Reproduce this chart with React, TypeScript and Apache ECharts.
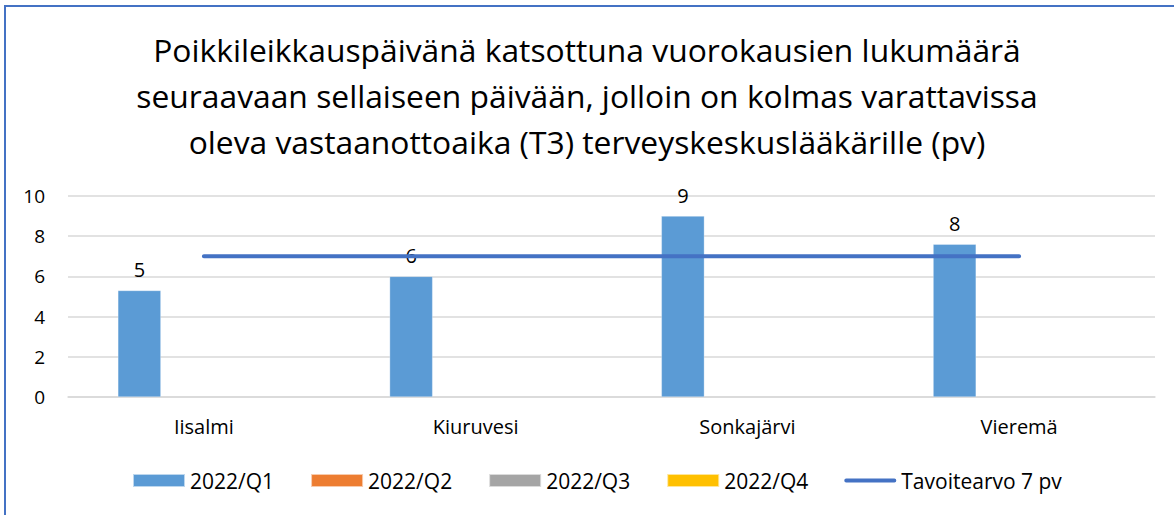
import React, { useEffect, useRef } from "react";
import * as echarts from "echarts";

const titleLines = [
  "Poikkileikkauspäivänä katsottuna vuorokausien lukumäärä",
  "seuraavaan sellaiseen päivään, jolloin on kolmas varattavissa",
  "oleva vastaanottoaika (T3) terveyskeskuslääkärille (pv)",
];
const categories = ["Iisalmi", "Kiuruvesi", "Sonkajärvi", "Vieremä"];
const seriesNames = ["2022/Q1", "2022/Q2", "2022/Q3", "2022/Q4"];
const q1Values = [5.3, 6.0, 9.0, 7.6];
const q2Values = ["-", "-", "-", "-"];
const q3Values = ["-", "-", "-", "-"];
const q4Values = ["-", "-", "-", "-"];
const targetName = "Tavoitearvo 7 pv";
const targetValues = [7, 7, 7, 7];
const yTicks = { min: 0, max: 10, interval: 2 };

const barColors = ["#5B9BD5", "#ED7D31", "#A5A5A5", "#FFC000"];
const FONT = "'Open Sans', 'Noto Sans', sans-serif";

export default function App() {
  const ref = useRef<HTMLDivElement>(null);
  useEffect(() => {
    if (!ref.current) return;
    const chart = echarts.init(ref.current, null, { renderer: "svg" });
    const barData = [q1Values, q2Values, q3Values, q4Values];
    const option: any = {
      animation: false,
      backgroundColor: "#ffffff",
      textStyle: { fontFamily: FONT },
      title: {
        text: titleLines.join("\n"),
        left: "center",
        top: 21,
        textStyle: {
          fontFamily: FONT,
          fontSize: 31.8,
          fontWeight: "normal",
          color: "#000000",
          lineHeight: 46,
        },
      },
      graphic: [
        {
          type: "rect",
          shape: { x: 5, y: 6, width: 1400, height: 800 },
          style: { fill: "none", stroke: "#4472C4", lineWidth: 2 },
          silent: true,
        },
      ],
      legend: {
        left: 127,
        top: 465,
        itemWidth: 52,
        itemHeight: 13,
        itemGap: 36,
        textStyle: { fontFamily: FONT, fontSize: 21, color: "#000000" },
        data: [
          ...seriesNames.map((n) => ({ name: n, icon: "rect" })),
          {
            name: targetName,
            icon: "path://M2,0L53,0A2,2,0,0,1,53,4L2,4A2,2,0,0,1,2,0Z",
          },
        ],
      },
      grid: { left: 68, right: 19, top: 196, bottom: 118, containLabel: false },
      xAxis: {
        type: "category",
        data: categories,
        axisLine: { lineStyle: { color: "#d9d9d9", width: 1.5 } },
        axisTick: { show: false },
        axisLabel: { fontFamily: FONT, fontSize: 20, color: "#000000", margin: 19 },
      },
      yAxis: {
        type: "value",
        min: yTicks.min,
        max: yTicks.max,
        interval: yTicks.interval,
        axisLine: { show: false },
        axisTick: { show: false },
        splitLine: { lineStyle: { color: "#d9d9d9", width: 1.5 } },
        axisLabel: { fontFamily: FONT, fontSize: 19, color: "#000000", margin: 23 },
      },
      series: [
        ...seriesNames.map((n, i) => ({
          name: n,
          type: "bar",
          data: barData[i],
          barGap: "0%",
          barCategoryGap: "36.7%",
          itemStyle: { color: barColors[i], borderColor: "rgba(255,255,255,0.6)", borderWidth: 0.5 },
          label:
            i === 0
              ? {
                  show: true,
                  position: "top",
                  distance: 11,
                  fontFamily: FONT,
                  fontSize: 20,
                  color: "#000000",
                  formatter: (p: any) => String(Math.round(p.value)),
                }
              : { show: false },
        })),
        {
          name: targetName,
          type: "line",
          data: targetValues,
          symbol: "none",
          z: 5,
          lineStyle: { color: "#4472C4", width: 4, cap: "round" },
          itemStyle: { color: "#4472C4" },
        },
      ],
    };
    chart.setOption(option);
    return () => chart.dispose();
  }, []);
  return (
    <div
      ref={ref}
      style={{ position: "fixed", left: 0, top: 0, width: 1174, height: 515 }}
    />
  );
}
